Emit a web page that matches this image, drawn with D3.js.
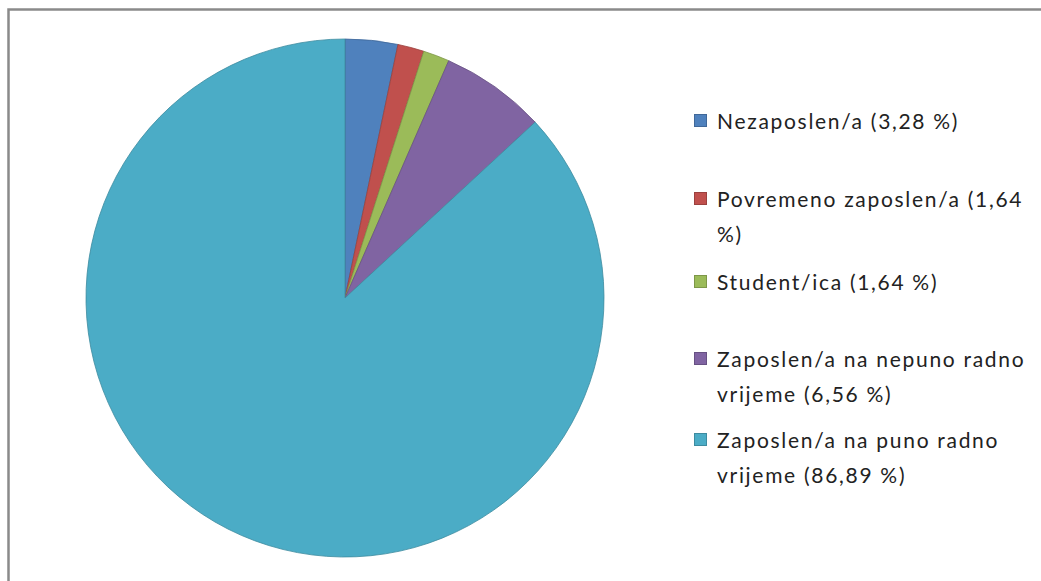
<!DOCTYPE html>
<html>
<head>
<meta charset="utf-8">
<script src="https://cdn.jsdelivr.net/npm/d3@7"></script>
<style>
  html, body { margin: 0; padding: 0; background: #fff; }
  svg { display: block; }
</style>
</head>
<body>
<svg id="chart" width="1041" height="581"></svg>
<script>
// Data
const categories = [
  "Nezaposlen/a",
  "Povremeno zaposlen/a",
  "Student/ica",
  "Zaposlen/a na nepuno radno vrijeme",
  "Zaposlen/a na puno radno vrijeme"
];
const values = [3.28, 1.64, 1.64, 6.56, 86.89];
const valueLabels = ["3,28 %", "1,64 %", "1,64 %", "6,56 %", "86,89 %"];
const legendLines = [
  ["Nezaposlen/a (3,28 %)"],
  ["Povremeno zaposlen/a (1,64", "%)"],
  ["Student/ica (1,64 %)"],
  ["Zaposlen/a na nepuno radno", "vrijeme (6,56 %)"],
  ["Zaposlen/a na puno radno", "vrijeme (86,89 %)"]
];
const colors = ["#4F81BD", "#C0504D", "#9BBB59", "#8064A2", "#4BACC6"];

const svg = d3.select("#chart");

// Frame
svg.append("rect")
  .attr("x", 8.5).attr("y", 9.5)
  .attr("width", 1100).attr("height", 700)
  .attr("fill", "none")
  .attr("stroke", "#8a8a8a")
  .attr("stroke-width", 2.5);

// Pie
const cx = 345, cy = 298, r = 259;
const pie = d3.pie().sort(null).value(d => d);
const arc = d3.arc().innerRadius(0).outerRadius(r);
const color = d3.scaleOrdinal().domain(categories).range(colors);

const g = svg.append("g").attr("transform", `translate(${cx},${cy})`);
g.selectAll("path")
  .data(pie(values))
  .join("path")
  .attr("d", arc)
  .attr("fill", (d, i) => color(categories[i]))
  .attr("stroke", (d, i) => d3.color(color(categories[i])).darker(0.6))
  .attr("stroke-width", 0.8);

// Legend
const baselines = [129, 207, 290, 367, 448];
const lineGap = 35;
const leg = svg.append("g").attr("font-family", "Lato, 'Open Sans', sans-serif")
  .attr("font-size", 21).attr("letter-spacing", 1.7).attr("fill", "#222");
categories.forEach((c, i) => {
  const b = baselines[i];
  leg.append("rect")
    .attr("x", 694.5).attr("y", b - 14.5)
    .attr("width", 12).attr("height", 12)
    .attr("fill", color(c))
    .attr("stroke", d3.color(color(c)).darker(0.6))
    .attr("stroke-width", 1);
  const t = leg.append("text").attr("x", 717).attr("y", b).attr("fill", "#222");
  legendLines[i].forEach((ln, j) => {
    t.append("tspan").attr("x", 717).attr("y", b + j * lineGap).text(ln);
  });
});
</script>
</body>
</html>
